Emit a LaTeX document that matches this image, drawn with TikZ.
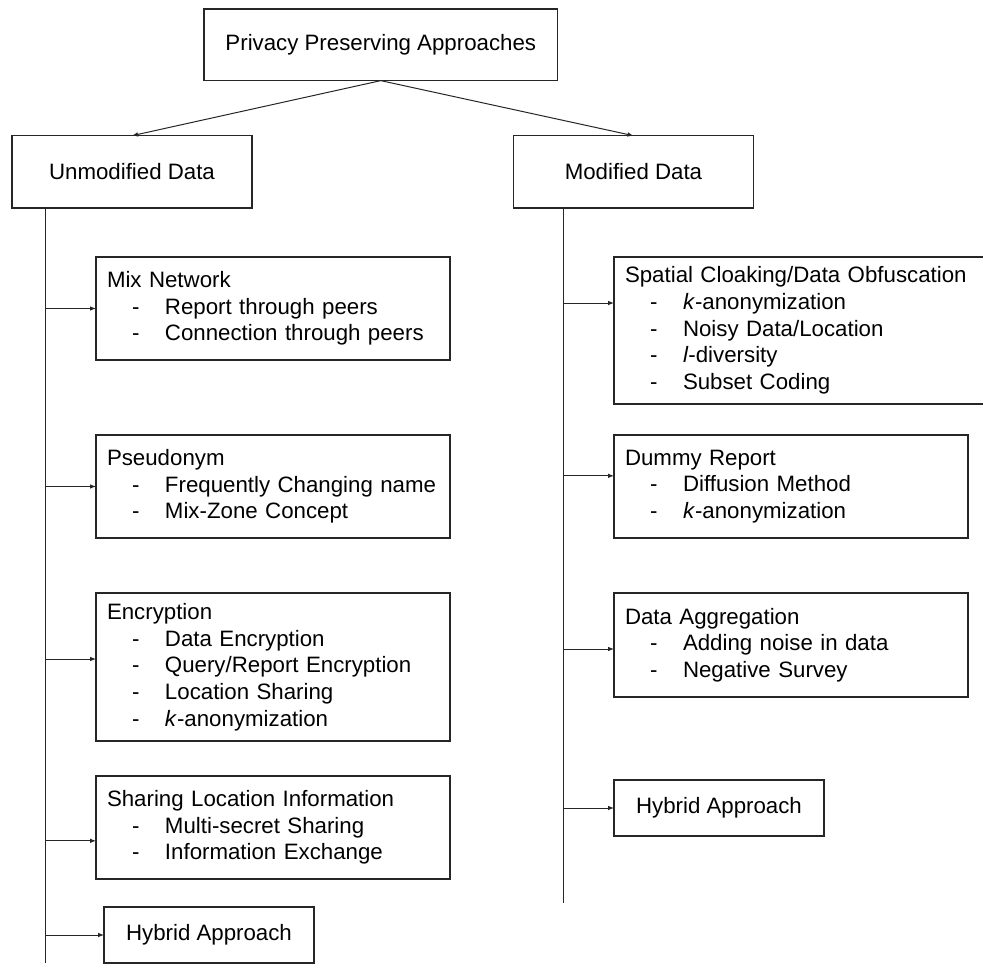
\documentclass[tikz,border=0pt]{standalone}
\usepackage{fontspec}
\setmainfont{Liberation Sans}
\usetikzlibrary{arrows.meta,positioning}
\tikzset {
    box/.style={draw=black!85, line width=1.1pt, inner sep=0pt, outer sep=0pt,
        align=center},
    leaf/.style={draw=black!85, line width=1.1pt, text width=249pt,
        inner xsep=8.25pt, inner ysep=0pt, outer sep=0pt, align=left,
        anchor=north west},
    trunk/.style={draw=black!85, line width=0.75pt},
    branch/.style={trunk, -{Latex[length=4.5pt,width=3.5pt]}},
}
\newcommand{\entry}[1]{\makebox[43.5pt][l]{\hspace*{18.75pt}-}#1}

\begin{document}
\begin{tikzpicture}[
        x=1pt, y=1pt,
        font=\fontsize{16.7pt}{20pt}\selectfont,
        hybrid/.style={box, minimum width=157.5pt, minimum height=42pt,
            anchor=north west},
    ]
    \useasboundingbox (0,0) rectangle (737.25,-724.5);

    \node[box, minimum width=265.3pt, minimum height=53.75pt] (root) at (285.6,-33.6) {Privacy Preserving Approaches};
    \node[box, minimum width=180pt, minimum height=54.25pt] (unmod) at (99,-128.9) {Unmodified Data};
    \node[box, minimum width=180pt, minimum height=54.25pt] (mod) at (475.1,-128.9) {Modified Data};

    \coordinate (lend) at (33.75,-722.25);
    \coordinate (rend) at (422.25,-677.25);

    \node[leaf, minimum height=77.25pt] (mix) at (72,-192.75)
        {Mix Network\\\entry{Report through peers}\\\entry{Connection through peers}};
    \node[leaf, minimum height=77.25pt, below=56.25pt of mix.south west, anchor=north west] (pseudo)
        {Pseudonym\\\entry{Frequently Changing name}\\\entry{Mix-Zone Concept}};
    \node[leaf, minimum height=111pt, below=41.25pt of pseudo.south west, anchor=north west] (encrypt)
        {Encryption\\\entry{Data Encryption}\\\entry{Query/Report Encryption}\\\entry{Location Sharing}\\\entry{\textit{k}-anonymization}};
    \node[leaf, minimum height=77.25pt, below=26.25pt of encrypt.south west, anchor=north west] (share)
        {Sharing Location Information\\\entry{Multi-secret Sharing}\\\entry{Information Exchange}};
    \node[hybrid, below=21pt of share.south west, anchor=north west, xshift=6pt] (hybridL) {Hybrid Approach};

    \node[leaf, text width=261.75pt, minimum height=110.25pt] (cloak) at (460.5,-192.75)
        {Spatial Cloaking/Data Obfuscation\\\entry{\textit{k}-anonymization}\\\entry{Noisy Data/Location}\\\entry{\textit{l}-diversity}\\\entry{Subset Coding}};
    \node[leaf, minimum height=77.25pt, below=23.25pt of cloak.south west, anchor=north west] (dummy)
        {Dummy Report\\\entry{Diffusion Method}\\\entry{\textit{k}-anonymization}};
    \node[leaf, minimum height=78pt, below=41.25pt of dummy.south west, anchor=north west] (aggr)
        {Data Aggregation\\\entry{Adding noise in data}\\\entry{Negative Survey}};
    \node[hybrid, below=62.25pt of aggr.south west, anchor=north west] (hybridR) {Hybrid Approach};

    \coordinate (encryptIn) at ([yshift=6pt]encrypt.west);
    \coordinate (shareIn) at ([yshift=-10pt]share.west);
    \coordinate (cloakIn) at ([yshift=20.6pt]cloak.west);
    \coordinate (dummyIn) at ([yshift=8pt]dummy.west);
    \coordinate (aggrIn) at ([yshift=-3pt]aggr.west);

    \draw[branch] (root.south) -- (unmod.north);
    \draw[branch] (root.south) -- (mod.north);

    \draw[trunk] (unmod.south -| lend) -- (lend);
    \draw[trunk] (mod.south -| rend) -- (rend);

    \draw[branch] (mix.west -| lend) -- (mix.west);
    \draw[branch] (pseudo.west -| lend) -- (pseudo.west);
    \draw[branch] (encryptIn -| lend) -- (encryptIn);
    \draw[branch] (shareIn -| lend) -- (shareIn);
    \draw[branch] (hybridL.west -| lend) -- (hybridL.west);

    \draw[branch] (cloakIn -| rend) -- (cloakIn);
    \draw[branch] (dummyIn -| rend) -- (dummyIn);
    \draw[branch] (aggrIn -| rend) -- (aggrIn);
    \draw[branch] (hybridR.west -| rend) -- (hybridR.west);

\end{tikzpicture}
\end{document}
